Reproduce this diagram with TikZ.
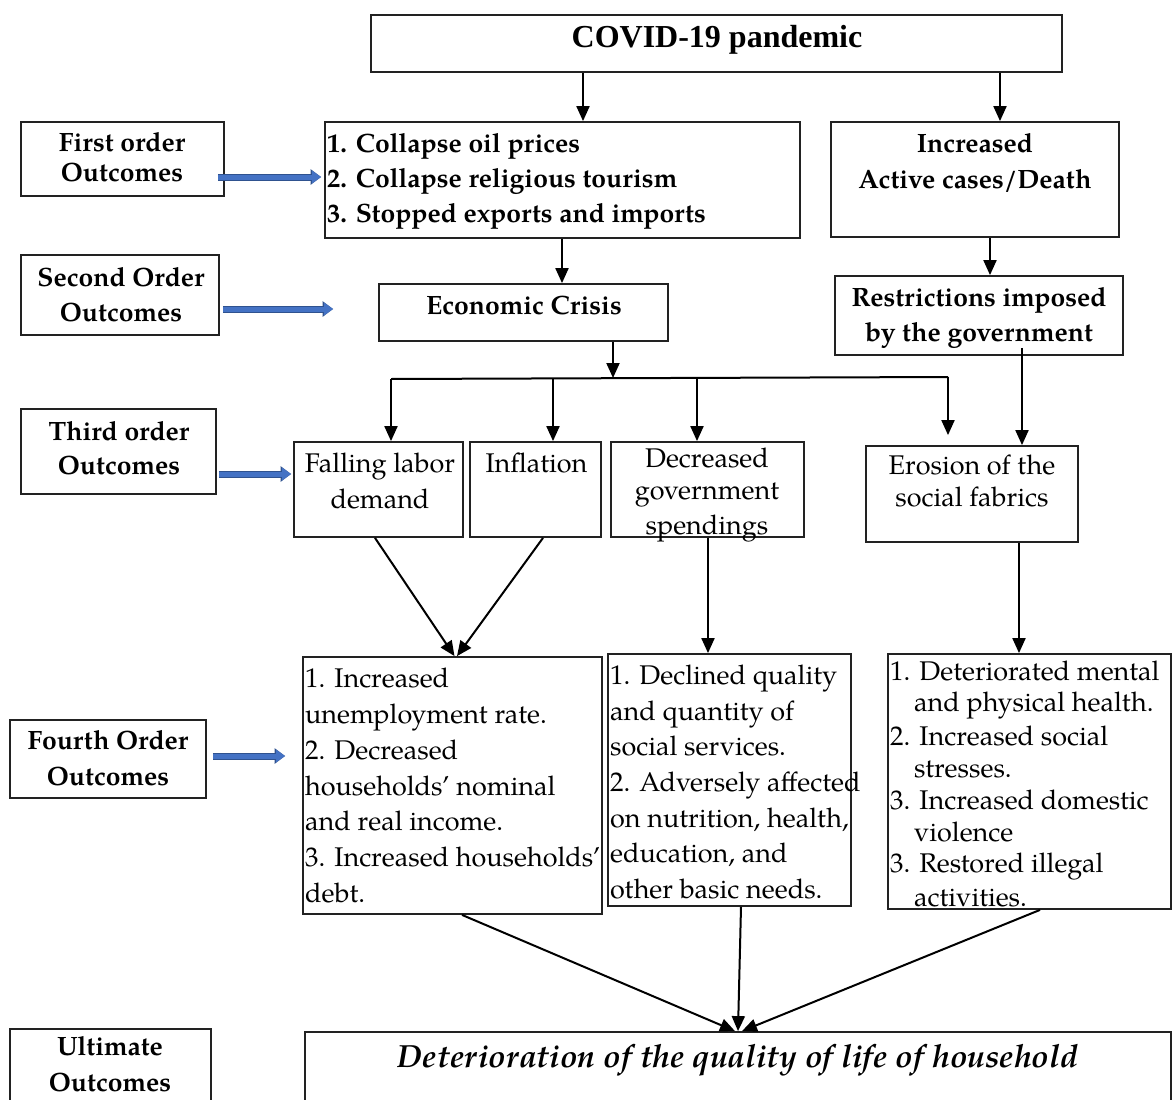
\documentclass[tikz,border=0pt]{standalone}
\usepackage{fontspec}
\setmainfont{texgyrepagella}[Extension=.otf, UprightFont=*-regular, BoldFont=*-bold, ItalicFont=*-italic, BoldItalicFont=*-bolditalic]
\newfontfamily\timesf{Liberation Serif}
\usetikzlibrary{arrows.meta,calc}
\definecolor{blueF}{HTML}{4472C4}
\definecolor{blueD}{HTML}{2F528F}
\definecolor{edge}{HTML}{222222}
\newcommand\SL[1]{\rule[\dimexpr-#1pt/2+9.5pt\relax]{0pt}{#1pt}}
\tikzset{
  box/.style={draw=edge, line width=1.8pt, inner sep=0pt},
  sz/.style 2 args={minimum width=#1pt, minimum height=#2pt},
  txt/.style={inner sep=0pt, align=center},
  ltxt/.style={inner sep=0pt, align=left},
  bf/.style={font=\bfseries\fontsize{26.5}{#1}\selectfont},
  rg/.style={font=\fontsize{27}{#1}\selectfont},
  arr/.style={draw=black, line width=2pt, -{Triangle[length=15pt,width=13pt]}},
  plain/.style={draw=black, line width=2pt},
  bluearr/.style={draw=blueF, line width=5pt, -{Triangle[length=9pt,width=12pt]},
     preaction={draw=blueD, line width=7pt, -{Triangle[length=10.5pt,width=15pt]}}}
}
\begin{document}
\begin{tikzpicture}[x=1pt,y=-1pt]
\useasboundingbox (0,0) rectangle (1173,1100);
% ---- boxes
\node[box, sz={691}{57}] (covid) at (716.5,43.5) {};
\node[box, sz={203}{74}] (first) at (122.5,159) {};
\node[box, sz={475}{116}] (b1) at (562.5,180) {};
\node[box, sz={288}{115}] (inc) at (975,179.5) {};
\node[box, sz={198}{80}] (second) at (120,295) {};
\node[box, sz={289}{57}] (econ) at (523.5,312.5) {};
\node[box, sz={288}{79}] (restr) at (979,315.5) {};
\node[box, sz={195}{85}] (third) at (118.5,451.5) {};
\node[box, sz={169}{95}] (fall) at (378.5,489.5) {};
\node[box, sz={131}{95}] (infl) at (535.5,489.5) {};
\node[box, sz={193}{95}] (decr) at (707.5,489.5) {};
\node[box, sz={212}{96}] (eros) at (972,494) {};
\node[box, sz={196}{78}] (fourth) at (108,759) {};
\node[box, sz={299}{257}] (b4a) at (452.5,785.5) {};
\node[box, sz={243}{252}] (b4b) at (729.5,780) {};
\node[box, sz={283}{255}] (b4c) at (1029.5,781.5) {};
\node[box, sz={201}{81}] (ult) at (110.5,1069.5) {};
\node[box, sz={866}{78}] (det) at (738,1071) {};
% ---- texts
\node[txt, font=\timesf\bfseries\fontsize{32}{35}\selectfont] (covidT) at (717,38) {\SL{35}COVID-19 pandemic};
\node[txt, bf=30] (firstT) at (122,156.7) {\SL{30}First order\\\SL{30}Outcomes};
\node[ltxt, bf=35, anchor=west] (b1T) at (327,178) {\SL{35}1. Collapse oil prices\\\SL{35}2. Collapse religious tourism\\\SL{35}3. Stopped exports and imports};
\node[txt, bf=36] (incT) at (975,161) {\SL{36}Increased\\\SL{36}Active cases/Death};
\node[txt, bf=35] (secondT) at (121,294) {\SL{35}Second Order\\\SL{35}Outcomes};
\node[txt, bf=35] (econT) at (524,305) {\SL{35}Economic Crisis};
\node[txt, bf=35] (restrT) at (979,314.5) {\SL{35}Restrictions imposed\\\SL{35}by the government};
\node[txt, bf=34] (thirdT) at (119,448) {\SL{34}Third order\\\SL{34}Outcomes};
\node[txt, rg=36] (fallT) at (380,481) {\SL{36}Falling labor\\\SL{36}demand};
\node[txt, rg=36] (inflT) at (536.5,463) {\SL{36}Inflation};
\node[txt, rg=32] (decrT) at (707,492) {\SL{32}Decreased\\\SL{32}government\\\SL{32}spendings};
\node[txt, rg=32] (erosT) at (972,480.5) {\SL{32}Erosion of the\\\SL{32}social fabrics};
\node[txt, bf=36] (fourthT) at (108,758) {\SL{36}Fourth Order\\\SL{36}Outcomes};
\node[ltxt, rg=35.8, anchor=west] (b4aT) at (305,785.5) {\SL{35.8}1. Increased\\\SL{35.8}unemployment rate.\\\SL{35.8}2. Decreased\\\SL{35.8}households’ nominal\\\SL{35.8}and real income.\\\SL{35.8}3. Increased households’\\\SL{35.8}debt.};
\node[ltxt, rg=35.7, anchor=west] (b4bT) at (610,782) {\SL{35.7}1. Declined quality\\\SL{35.7}and quantity of\\\SL{35.7}social services.\\\SL{35.7}2. Adversely affected\\\SL{35.7}on nutrition, health,\\\SL{35.7}education, and\\\SL{35.7}other basic needs.};
\node[ltxt, rg=31.7, anchor=west] (b4cT) at (890,784) {\SL{31.7}1. Deteriorated mental\\\SL{31.7}\hspace*{24pt}and physical health.\\\SL{31.7}2. Increased social\\\SL{31.7}\hspace*{24pt}stresses.\\\SL{31.7}3. Increased domestic\\\SL{31.7}\hspace*{24pt}violence\\\SL{31.7}3. Restored illegal\\\SL{31.7}\hspace*{24pt}activities.};
\node[txt, bf=36] (ultT) at (110,1064) {\SL{36}Ultimate\\\SL{36}Outcomes};
\node[txt, font=\bfseries\itshape\fontsize{32}{36}\selectfont] (detT) at (738,1058) {\SL{36}Deterioration of the quality of life of household};
% ---- black connectors
\draw[arr] ([xshift=-133.5pt]covid.south) -- ([xshift=20.5pt]b1.north);
\draw[arr] ([xshift=283.5pt]covid.south) -- ([xshift=25pt]inc.north);
\draw[arr] ([xshift=-0.5pt]b1.south) -- ([xshift=38.5pt]econ.north);
\draw[arr] ([xshift=15pt]inc.south) -- ([xshift=11pt]restr.north);
\coordinate (barM) at (613,378);
\coordinate (barL) at (391,379);
\coordinate (barI) at (553,378.5);
\coordinate (barD) at (697,378);
\coordinate (barR) at (948,377);
\draw[arr] ([xshift=89.5pt]econ.south) -- (barM);
\draw[plain] (barL) -- (barR);
\draw[arr] (barL) -- ([xshift=12.5pt]fall.north);
\draw[arr] (barI) -- ([xshift=17.5pt]infl.north);
\draw[arr] (barD) -- ([xshift=-10.5pt]decr.north);
\draw[arr] (barR) -- ([xshift=-24pt,yshift=10pt]eros.north);
\draw[arr] ([xshift=43pt,yshift=8pt]restr.south) -- ([xshift=50pt]eros.north);
\draw[arr] ([xshift=-3.5pt]fall.south) -- ([xshift=2pt]b4a.north);
\draw[arr] ([xshift=7.5pt]infl.south) -- ([xshift=4.5pt]b4a.north);
\draw[arr] ([xshift=0.5pt]decr.south) -- ([xshift=-21.5pt]b4b.north);
\draw[arr] ([xshift=47pt]eros.south) -- ([xshift=-10.5pt]b4c.north);
\draw[arr] ([xshift=9.5pt]b4a.south) -- ([xshift=-3pt]det.north);
\draw[arr] ([xshift=11.5pt]b4b.south) -- ([xshift=0pt]det.north);
\draw[arr] ([xshift=10.5pt]b4c.south) -- ([xshift=4pt]det.north);
% ---- blue connectors
\draw[bluearr] ([xshift=-7pt,yshift=-18pt]first.east) -- ([xshift=-3pt,yshift=3pt]b1.west);
\draw[bluearr] ([xshift=3pt,yshift=-14pt]second.east) -- ([xshift=-45pt,yshift=3.5pt]econ.west);
\draw[bluearr] ([xshift=2pt,yshift=-22.5pt]third.east) -- ([xshift=-2pt,yshift=15.5pt]fall.west);
\draw[bluearr] ([xshift=6pt,yshift=3pt]fourth.east) -- ([xshift=-17pt,yshift=29.5pt]b4a.west);
\end{tikzpicture}
\end{document}
